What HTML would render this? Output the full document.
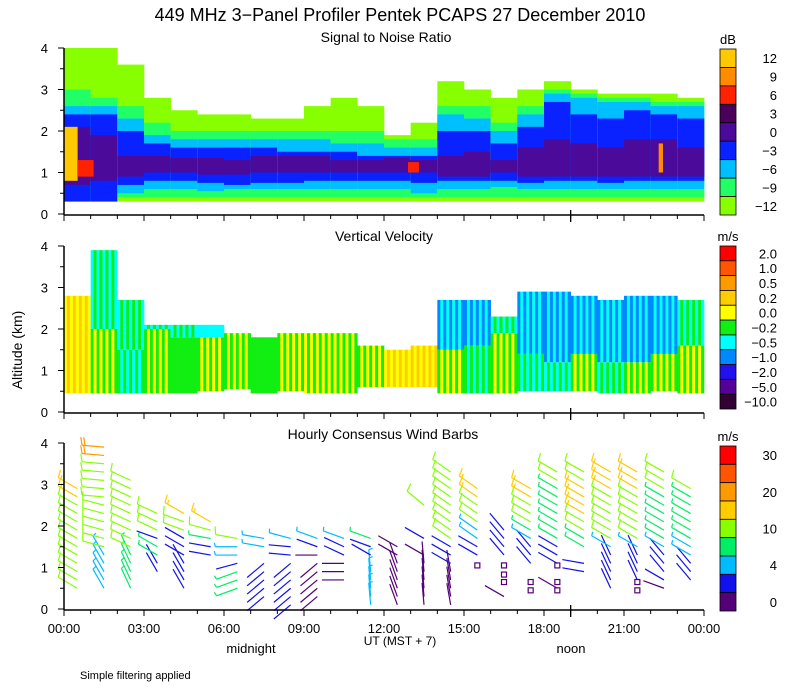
<!DOCTYPE html>
<html><head><meta charset="utf-8"><style>
html,body{margin:0;padding:0;background:#fff;}
svg{display:block;font-family:"Liberation Sans",sans-serif;}
</style></head><body>
<svg id="chart" width="800" height="700" viewBox="0 0 800 700" xmlns="http://www.w3.org/2000/svg">
<text x="400" y="21" font-size="18" text-anchor="middle">449 MHz 3−Panel Profiler Pentek PCAPS 27 December 2010</text>
<text x="386" y="42" font-size="14" text-anchor="middle">Signal to Noise Ratio</text>
<text x="384" y="241" font-size="14" text-anchor="middle">Vertical Velocity</text>
<text x="383" y="439" font-size="14" text-anchor="middle">Hourly Consensus Wind Barbs</text>
<text transform="translate(22,350) rotate(-90)" font-size="14" text-anchor="middle">Altitude (km)</text>
<text x="251" y="653" font-size="13" text-anchor="middle">midnight</text>
<text x="400" y="645" font-size="12" text-anchor="middle">UT  (MST + 7)</text>
<text x="571" y="653" font-size="13" text-anchor="middle">noon</text>
<text x="80" y="679" font-size="11">Simple filtering applied</text>
<g id="snr"></g>
<g id="vv"></g>
<g id="wind"></g>
<g id="axes"></g>
<g id="bars"></g>
</svg>
<script>
// ---- SNR data (per hour, km) ----
const snrLimeTop=[4.0,4.0,3.6,2.8,2.5,2.4,2.4,2.3,2.3,2.6,2.8,2.6,1.9,2.2,3.2,3.0,2.8,3.0,3.2,3.0,2.9,2.9,2.9,2.8];
const snrGreenTop=[3.0,2.8,2.6,2.2,2.0,2.0,2.0,2.0,2.0,2.0,2.0,2.0,1.8,1.8,2.6,2.6,2.2,2.6,3.0,2.9,2.8,2.8,2.7,2.7];
const snrCyanTop=[2.6,2.6,2.3,1.9,1.8,1.8,1.8,1.8,1.8,1.8,1.7,1.7,1.6,1.6,2.4,2.3,2.0,2.4,2.9,2.8,2.7,2.7,2.6,2.6];
const snrBlueTop=[2.4,2.4,2.0,1.7,1.6,1.6,1.6,1.6,1.5,1.5,1.5,1.4,1.4,1.4,2.0,2.0,1.7,2.1,2.7,2.4,2.3,2.5,2.4,2.3];
const snrPurpleTop=[2.1,1.9,1.4,1.4,1.35,1.35,1.3,1.4,1.4,1.4,1.3,1.3,1.35,1.3,1.4,1.5,1.3,1.6,1.8,1.7,1.6,1.8,1.8,1.6];
const snrPurpleBot=[0.7,0.8,0.9,1.0,1.0,0.95,0.95,1.0,1.0,1.0,1.0,1.0,1.0,1.0,0.9,0.9,1.0,0.9,0.9,0.9,0.9,0.9,0.9,0.9];
const snrBlueBot=[0.3,0.3,0.7,0.8,0.8,0.75,0.7,0.75,0.75,0.8,0.8,0.8,0.8,0.75,0.8,0.8,0.8,0.75,0.8,0.8,0.75,0.8,0.8,0.8];
const snrCyanBot=[0.3,0.3,0.5,0.6,0.6,0.55,0.6,0.6,0.6,0.6,0.6,0.6,0.6,0.5,0.6,0.6,0.65,0.6,0.6,0.6,0.6,0.6,0.6,0.6];
const hotStart=[0,0.5,12.9,22.3];
const hotEnd=[0.5,1.1,13.3,22.45];
const hotBot=[0.8,0.9,1.0,1.0];
const hotTop=[2.1,1.3,1.25,1.7];
const hotDb=[11,7,7,8];
// ---- Vertical velocity data (per hour) ----
const vvTop=[2.8,3.9,2.7,2.1,2.1,2.1,1.9,1.8,1.9,1.9,1.9,1.6,1.5,1.6,2.7,2.7,2.3,2.9,2.9,2.8,2.7,2.8,2.8,2.7];
const vvBot=[0.45,0.45,0.45,0.45,0.45,0.5,0.55,0.45,0.5,0.45,0.45,0.6,0.6,0.6,0.45,0.45,0.45,0.5,0.5,0.5,0.45,0.45,0.5,0.45];
const vvSplit=[2.8,2.0,1.5,2.0,1.8,1.8,1.9,1.8,1.9,1.9,1.9,1.6,1.5,1.6,1.5,1.6,1.9,1.4,1.2,1.4,1.2,1.2,1.4,1.6];
const vvUpperA=[-0.2,-0.5,-0.5,-0.5,-0.5,-0.5,-0.5,-0.5,-0.5,-0.5,-0.5,-0.5,-0.5,-0.5,-1.0,-1.0,-0.5,-1.0,-1.0,-1.0,-1.0,-1.0,-1.0,-0.5];
const vvUpperB=[-0.2,-0.2,-0.2,-0.2,-0.2,-0.5,-0.2,-0.2,-0.2,-0.2,-0.2,-0.2,-0.2,-0.2,-0.5,-0.5,-0.2,-0.5,-0.5,-0.5,-0.5,-0.5,-0.5,-0.2];
const vvLowerA=[0.0,-0.2,-0.2,-0.2,-0.2,-0.2,-0.2,-0.2,-0.2,0.0,-0.2,-0.2,0.0,0.2,-0.2,-0.2,-0.2,-0.2,-0.5,-0.2,-0.5,-0.2,-0.2,-0.2];
const vvLowerB=[0.2,0.0,-0.5,0.0,-0.2,0.0,0.0,-0.2,0.0,-0.2,0.0,0.0,0.2,0.0,0.0,-0.5,0.0,-0.5,-0.2,0.0,-0.2,0.0,0.0,0.0];
// ---- Wind barb segments ----
const segCol=[0,0,1,1,1,1,2,2,3,3,3,3,4,4,4,4,5,5,5,5,6,6,6,6,7,7,8,8,8,9,9,9,9,10,10,10,11,11,11,11,12,12,13,13,13,13,14,14,14,15,15,15,15,16,16,17,17,17,17,17,18,18,18,18,19,19,19,19,19,20,20,20,20,21,21,21,21,22,22,22,22,22,22,23,23,23,23];
const segBot=[0.5,2.7,0.5,1.5,2.7,3.7,0.5,1.5,0.9,1.3,1.7,1.9,0.5,1.3,1.9,2.3,1.3,1.7,1.9,2.1,0.5,1.1,1.3,1.7,0.3,1.5,0.1,1.3,1.7,0.3,1.3,1.5,1.7,0.7,1.3,1.7,0.1,1.3,1.5,1.7,0.1,1.3,0.1,1.3,1.7,2.5,0.1,1.1,1.7,1.3,1.7,2.1,2.7,0.3,1.3,1.1,1.7,1.9,2.1,2.7,0.5,1.1,1.7,3.1,0.9,1.5,1.9,2.3,3.1,0.5,1.5,1.7,2.9,0.7,1.5,1.7,2.9,0.5,0.7,0.9,1.5,1.7,2.9,0.7,1.3,1.7,2.9];
const segTop=[2.5,2.9,1.3,2.5,3.5,3.9,1.3,3.1,1.1,1.5,1.7,2.3,1.1,1.7,2.1,2.3,1.5,1.7,1.9,2.1,0.9,1.1,1.5,1.7,1.1,1.7,1.1,1.5,1.7,1.1,1.3,1.5,1.7,1.1,1.5,1.7,0.9,1.3,1.5,1.7,1.1,1.5,1.1,1.3,1.7,2.5,0.9,1.5,3.3,1.5,1.9,2.5,2.9,0.3,1.9,1.5,1.7,1.9,2.5,2.9,0.5,1.5,2.9,3.3,1.1,1.7,2.1,2.9,3.3,1.3,1.5,2.7,3.3,1.3,1.5,2.7,3.3,0.5,0.7,1.3,1.5,2.7,3.3,1.1,1.5,2.7,2.9];
const segSpeed=[11,18,5,12,14,20,7,13,3,8,3,12,3,3,12,18,3,8,12,17,8,3,5,11,3,5,2,3,5,1.5,1.5,3,5,1.5,3,5,5,2,3,8,1.5,1.5,1.5,1.5,3,12,1.5,2,12,2,5,12,18,1.5,2,2,5,8,12,18,1.5,2,9,12,3,8,12,17,12,2,5,12,18,2,5,12,18,1.5,3,2,5,9,12,2,5,9,12];
const segDir=[300,300,330,285,275,275,335,295,330,300,290,295,330,300,290,300,280,280,285,300,250,255,270,280,230,280,230,275,285,230,270,290,290,270,295,290,355,300,290,290,340,300,355,300,300,310,350,300,305,300,305,305,305,300,320,320,300,300,300,300,300,300,300,300,280,300,300,300,300,335,300,300,300,335,300,300,300,290,300,320,300,300,300,320,300,300,300];
const sqHour=[15.5,16.5,16.5,16.5,17.5,17.5,18.5,18.5,18.5,21.5,21.5];
const sqKm=[1.05,1.05,0.83,0.65,0.65,0.45,1.05,0.65,0.45,0.65,0.45];
// ---- Colorbar labels ----
const snrLabels=["12","9","6","3","0","−3","−6","−9","−12"];
const vvLabels=["2.0","1.0","0.5","0.2","0.0","−0.2","−0.5","−1.0","−2.0","−5.0","−10.0"];
const windLabels=["30","","20","","10","","4","","0"];
const xTickLabels=["00:00","03:00","06:00","09:00","12:00","15:00","18:00","21:00","00:00"];
const yTickLabels=["0","1","2","3","4"];

const NS="http://www.w3.org/2000/svg";
const snrColors=["#ffc800","#ff8c00","#ff2200","#4a0058","#4b0a9a","#0a22ff","#00bfff","#22ff66","#88ff00"];
const snrVals=[12,9,6,3,0,-3,-6,-9,-12];
const vvColors=["#ff0000","#ff5500","#ff9900","#ffcc00","#ffff00","#11ee11","#00ffff","#0088ff","#2211ee","#550099","#330033"];
const vvVals=[2.0,1.0,0.5,0.2,0.0,-0.2,-0.5,-1.0,-2.0,-5.0,-10.0];
const windColors=["#ff0000","#ff5500","#ff9900","#ffcc00","#88ff00","#00ee66","#00bbff","#1111ee","#550077"];
const base=[214,412,609], KM=41.5, X0=64, HR=640/24;
const xOf=h=>X0+h*HR;
const yOf=(p,km)=>base[p]-km*KM;
function el(tag,attrs,parent){const e=document.createElementNS(NS,tag);for(const k in attrs)e.setAttribute(k,attrs[k]);parent.appendChild(e);return e;}
function nearestIdx(vals,v){let b=0;for(let i=1;i<vals.length;i++)if(Math.abs(vals[i]-v)<Math.abs(vals[b]-v))b=i;return b;}
function band(g,p,h0,h1,k0,k1,color,name){
  if(k1<=k0)return;
  const r=el('rect',{x:xOf(h0),y:yOf(p,k1),width:xOf(h1)-xOf(h0)+0.3,height:(k1-k0)*KM,fill:color},g);
  
  
}
// SNR
const gs=document.getElementById('snr');
for(let h=0;h<24;h++){
  band(gs,0,h,h+1,0.3,snrLimeTop[h],snrColors[8],'snr-cell');
  band(gs,0,h,h+1,0.4,snrGreenTop[h],snrColors[7],'snr-cell');
  band(gs,0,h,h+1,snrCyanBot[h],snrCyanTop[h],snrColors[6],'snr-cell');
  band(gs,0,h,h+1,snrBlueBot[h],snrBlueTop[h],snrColors[5],'snr-cell');
  band(gs,0,h,h+1,snrPurpleBot[h],snrPurpleTop[h],snrColors[4],'snr-cell');
}
for(let i=0;i<hotStart.length;i++){
  band(gs,0,hotStart[i],hotEnd[i],hotBot[i],hotTop[i],snrColors[nearestIdx(snrVals,hotDb[i])],'snr-hotspot');
}
// Vertical velocity with stripes
const gv=document.getElementById('vv');
for(let h=0;h<24;h++){
  for(let s=0;s<9;s++){
    const h0=h+s/9,h1=h+(s+1)/9;
    const up=s%2?vvUpperB[h]:vvUpperA[h];
    const lo=s%2?vvLowerB[h]:vvLowerA[h];
    band(gv,1,h0,h1,vvBot[h],Math.min(vvSplit[h],vvTop[h]),vvColors[nearestIdx(vvVals,lo)],'velocity-cell');
    band(gv,1,h0,h1,vvSplit[h],vvTop[h],vvColors[nearestIdx(vvVals,up)],'velocity-cell');
  }
}
// Wind barbs
const gw=document.getElementById('wind');
function windColor(s){const t=[2,4,7,10,15,20,25,30];let i=0;while(i<t.length&&s>=t[i])i++;return windColors[8-i];}
for(let i=0;i<segCol.length;i++){
  for(let k=segBot[i];k<=segTop[i]+0.001;k+=0.2){
    const sx=xOf(segCol[i]+0.5),sy=yOf(2,k);
    const a=segDir[i]*Math.PI/180;
    const dx=Math.sin(a),dy=-Math.cos(a),L=22;
    const tx=sx+dx*L,ty=sy+dy*L;
    const c=windColor(segSpeed[i]);
    const g=el('g',{stroke:c,'stroke-width':1.2,fill:'none'},gw);
    
    
    el('line',{x1:sx,y1:sy,x2:tx,y2:ty},g);
    const px=-dy,py=dx; // perpendicular
    let s=segSpeed[i],pos=0;
    let full=Math.floor(s/10),half=(s%10)>=5?1:0;
    for(let f=0;f<full;f++){const bx=tx-dx*pos,by=ty-dy*pos;el('line',{x1:bx,y1:by,x2:bx+px*8+dx*2,y2:by+py*8+dy*2},g);pos+=3;}
    if(half){const bx=tx-dx*pos,by=ty-dy*pos;el('line',{x1:bx,y1:by,x2:bx+px*4+dx*1,y2:by+py*4+dy*1},g);}
  }
}
for(let i=0;i<sqHour.length;i++){
  const r=el('rect',{x:xOf(sqHour[i])-2.5,y:yOf(2,sqKm[i])-2.5,width:5,height:5,fill:'none',stroke:'#550077','stroke-width':1.2},gw);
  
  
}
// Axes
const ga=document.getElementById('axes');
for(let p=0;p<3;p++){
  el('line',{x1:X0,y1:base[p]+1,x2:X0+640,y2:base[p]+1,stroke:'#000','stroke-width':1.5},ga);
  el('line',{x1:X0,y1:yOf(p,4),x2:X0,y2:base[p]+1,stroke:'#000','stroke-width':1.5},ga);
  for(let h=0;h<=24;h++){
    const big=h%3===0;
    el('line',{x1:xOf(h),y1:base[p]+1,x2:xOf(h),y2:base[p]+1+(big?6:4),stroke:'#000','stroke-width':1},ga);
  }
  el('line',{x1:xOf(19),y1:base[p]-4,x2:xOf(19),y2:base[p]+8,stroke:'#000','stroke-width':1.3},ga);
  for(let k=0;k<=8;k++){
    const y=yOf(p,k*0.5);
    el('line',{x1:X0-(k%2?4:6),y1:y,x2:X0,y2:y,stroke:'#000','stroke-width':1},ga);
  }
  for(let k=0;k<yTickLabels.length;k++){
    const t=el('text',{x:48,y:yOf(p,k)+5,'font-size':13,'text-anchor':'end'},ga);
    t.textContent=yTickLabels[k];
    
    
  }
}
for(let i=0;i<xTickLabels.length;i++){
  const t=el('text',{x:xOf(i*3),y:633,'font-size':13,'text-anchor':'middle'},ga);
  t.textContent=xTickLabels[i];
  
  
}
// Colorbars
const gb=document.getElementById('bars');
function colorbar(top,bottom,colors,labels,unit,name){
  const n=colors.length,hgt=(bottom-top)/n;
  const u=el('text',{x:728,y:top-5,'font-size':13,'text-anchor':'middle'},gb);
  u.textContent=unit;
  
  
  for(let i=0;i<n;i++){
    const r=el('rect',{x:720,y:top+i*hgt,width:16,height:hgt,fill:colors[i],stroke:'#000','stroke-width':0.8},gb);
    
    
    if(labels[i]){
      const t=el('text',{x:777,y:top+i*hgt+hgt/2+5,'font-size':13,'text-anchor':'end'},gb);
      t.textContent=labels[i];
      
      
    }
  }
}
colorbar(49,215,snrColors,snrLabels,'dB','snr-colorbar');
colorbar(246,409,vvColors,vvLabels,'m/s','velocity-colorbar');
colorbar(446,611,windColors,windLabels,'m/s','wind-colorbar');
</script>
</body></html>
